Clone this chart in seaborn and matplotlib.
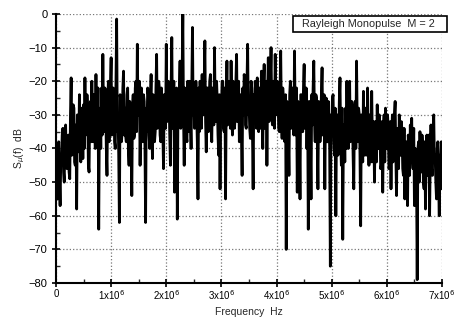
import numpy as np
import pandas as pd
import seaborn as sns
import matplotlib
matplotlib.use("Agg")
import matplotlib.pyplot as plt
from matplotlib.patches import Rectangle
from matplotlib.ticker import MultipleLocator, FixedLocator, FixedFormatter

# spectrum values in dB (evenly spaced bins over 0..7 MHz)
s_db = [
    -42, -50, -55, -41, -38, -49, -57, -43, -44, -36, -34, -47, -50, -35, -33, -45, -46, -37, -36, -47,
    -49, -30, -19, -42, -38, -27, -28, -44, -45, -33, -58, -30, -32, -41, -24, -38, -44, -28, -30, -43,
    -27, -40, -19, -36, -35, -24, -29, -45, -47, -28, -26, -38, -20, -33, -38, -24, -30, -40, -18, -36,
    -33, -22, -64, -30, -28, -40, -22, -36, -12, -30, -35, -22, -25, -40, -48, -26, -20, -38, -30, -22,
    -13, -36, -32, -22, -25, -38, -40, -22, -1.5, -35, -30, -42, -62, -24, -26, -38, -35, -22, -17, -36,
    -28, -36, -38, -24, -22, -40, -45, -26, -30, -38, -54, -28, -24, -37, -36, -22, -20, -35, -9, -30,
    -30, -20, -45, -30, -22, -36, -38, -24, -26, -38, -62, -28, -35, -22, -24, -36, -40, -25, -18, -35,
    -43, -24, -28, -38, -35, -22, -12, -34, -30, -20, -22, -36, -38, -22, -27, -35, -46, -24, -25, -34,
    -9, -32, -30, -20, -24, -36, -45, -22, -7, -34, -28, -20, -53, -26, -35, -22, -61, -28, -30, -22,
    -14, -34, -25, -18, 0, -30, -45, -22, -28, -36, -38, -20, -22, -35, -20, -32, -40, -22, -4, -30,
    -24, -34, -33, -20, -28, -38, -55, -22, -35, -20, -26, -34, -18, -30, -30, -20, -8, -32, -41, -22,
    -22, -35, -30, -20, -18, -34, -38, -22, -24, -33, -10, -30, -32, -20, -26, -36, -42, -24, -52, -28,
    -28, -20, -20, -34, -35, -22, -55, -26, -14, -33, -32, -20, -22, -34, -14, -30, -36, -20, -24, -34,
    -30, -20, -12, -32, -28, -20, -38, -24, -25, -35, -48, -22, -30, -18, -20, -33, -34, -22, -9, -30,
    -26, -34, -37, -20, -22, -35, -52, -24, -30, -20, -24, -34, -19, -30, -35, -22, -28, -34, -17, -30,
    -40, -22, -15, -34, -30, -20, -45, -24, -13, -32, -28, -20, -10, -30, -33, -20, -24, -34, -12, -28,
    -30, -20, -22, -34, -35, -22, -11, -30, -37, -22, -26, -35, -38, -24, -70, -26, -29, -36, -48, -24,
    -20, -34, -32, -22, -25, -36, -11, -30, -36, -22, -53, -26, -28, -36, -55, -24, -24, -35, -35, -22,
    -15, -34, -30, -22, -40, -26, -64, -30, -26, -38, -55, -24, -33, -22, -14, -32, -38, -24, -25, -36,
    -52, -26, -28, -38, -34, -24, -16, -36, -30, -24, -52, -28, -25, -38, -38, -26, -32, -40, -75, -30,
    -35, -25, -24, -38, -42, -28, -60, -32, -30, -42, -40, -26, -19, -38, -45, -28, -67, -35, -33, -44,
    -28, -40, -20, -35, -40, -26, -20, -38, -36, -26, -30, -42, -52, -28, -26, -40, -14, -32, -38, -28,
    -30, -42, -63, -30, -36, -44, -23, -38, -42, -28, -30, -42, -22, -36, -45, -30, -34, -44, -23, -38,
    -44, -32, -50, -36, -32, -44, -27, -40, -40, -30, -35, -46, -45, -32, -53, -34, -30, -44, -28, -40,
    -40, -30, -34, -46, -45, -32, -52, -36, -30, -44, -38, -30, -26, -42, -54, -34, -36, -46, -30, -42,
    -42, -32, -35, -46, -48, -34, -55, -40, -38, -48, -57, -36, -40, -48, -33, -44, -31, -42, -46, -34,
    -57, -40, -42, -48, -79, -40, -38, -50, -35, -44, -47, -36, -40, -50, -52, -38, -58, -42, -36, -48,
    -44, -36, -60, -42, -33, -46, -48, -36, -30, -44, -42, -50, -55, -40, -38, -50, -60, -42, -45, -38,
    -52,
]
freq_max = 7e6
freq = np.linspace(0, freq_max, len(s_db))

x_ticks = [0, 1e6, 2e6, 3e6, 4e6, 5e6, 6e6, 7e6]
x_tick_labels = ["0", "1x10$^6$", "2x10$^6$", "3x10$^6$", "4x10$^6$",
                 "5x10$^6$", "6x10$^6$", "7x10$^6$"]
y_ticks = [0, -10, -20, -30, -40, -50, -60, -70, -80]
legend_text = "Rayleigh Monopulse  M = 2"

df = pd.DataFrame({"freq": freq, "S": s_db})

sns.set_style("white")
plt.rcParams["font.family"] = ["Liberation Sans", "DejaVu Sans"]

fig = plt.figure(figsize=(4.54, 3.23), dpi=100)
ax = fig.add_axes([0.1233, 0.1238, 0.8503, 0.8329])

sns.lineplot(data=df, x="freq", y="S", ax=ax, color="black", lw=2.0,
             estimator=None, sort=False)

ax.set_xlim(0, freq_max)
ax.set_ylim(-80, 0)

ax.xaxis.set_major_locator(FixedLocator(x_ticks))
ax.xaxis.set_major_formatter(FixedFormatter(x_tick_labels))
ax.xaxis.set_minor_locator(MultipleLocator(5e5))
ax.yaxis.set_major_locator(FixedLocator(y_ticks))
ax.yaxis.set_minor_locator(MultipleLocator(5))

ax.tick_params(which="major", direction="inout", length=6, width=1.2,
               labelsize=8, colors="black")
ax.tick_params(axis="x", which="major", pad=1, labelsize=7)
ax.tick_params(axis="y", which="major", pad=3)
ax.tick_params(which="minor", direction="in", length=3, width=1.0)
ax.tick_params(axis="x", which="both", bottom=True)
ax.tick_params(axis="y", which="both", left=True)

ax.grid(True, which="major", linestyle=":", color="#777777", lw=0.9)

for side in ["top", "right"]:
    ax.spines[side].set_visible(False)
for side in ["left", "bottom"]:
    ax.spines[side].set_color("black")
    ax.spines[side].set_linewidth(1.5)

ax.set_xlabel("Frequency  Hz", fontsize=7.5, labelpad=3)
ax.set_ylabel("S$_\\mu$(f)  dB", fontsize=7.5, labelpad=1)

ax.add_patch(Rectangle((0.614, 0.933), 0.399, 0.0596, transform=ax.transAxes,
                       fc="white", ec="black", lw=1.2, clip_on=False, zorder=5))
ax.text(0.637, 0.963, legend_text, transform=ax.transAxes, fontsize=7.8,
        ha="left", va="center", zorder=6)

fig.savefig("out.png", dpi=100)
